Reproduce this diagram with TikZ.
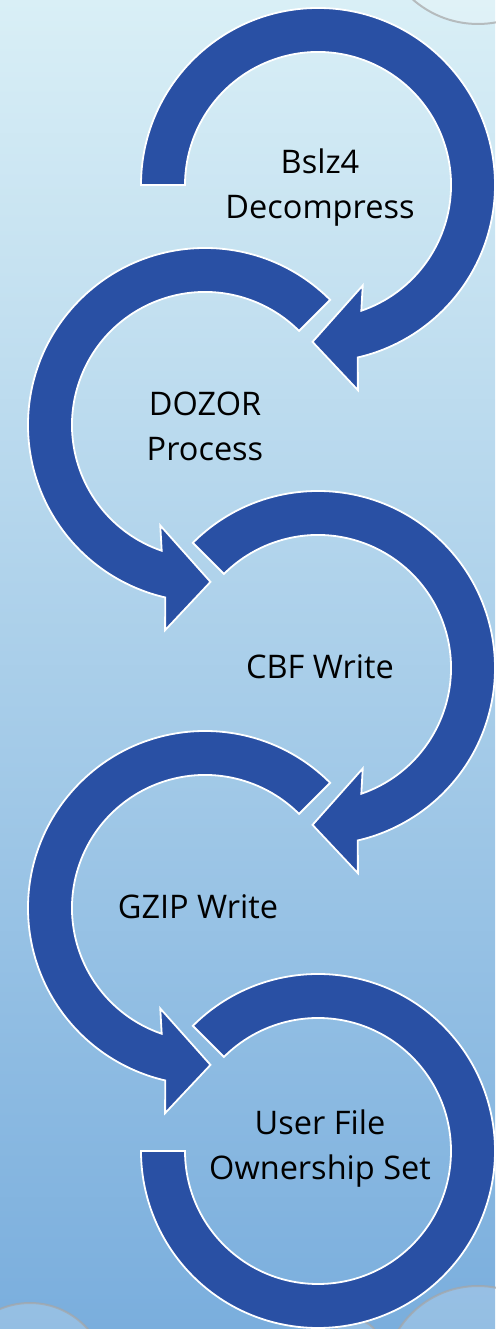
\documentclass[tikz,border=0pt]{standalone}
\usepackage{fontspec}
\setmainfont{Open Sans}
\definecolor{arrowblue}{RGB}{41,80,164}
\definecolor{bgtop}{RGB}{217,239,246}
\definecolor{bgmid}{RGB}{184,216,236}
\definecolor{bgbot}{RGB}{122,174,221}

\begin{document}
\begin{tikzpicture}[x=1pt,y=1pt,
  arrowbody/.style={fill=arrowblue,draw=white,line width=1.8pt},
  steptext/.style={font=\fontsize{32.5}{45}\selectfont,align=center,text=black},
  bubble/.style={draw=gray!70,line width=2pt,fill=white,fill opacity=0.2,draw opacity=0.7}]

  \useasboundingbox (0,0) rectangle (495,1329);
  \shade[top color=bgtop,middle color=bgmid,bottom color=bgbot] (0,0) rectangle (495,1329);

  \draw[bubble] (478,1404) circle[radius=99pt];
  \draw[bubble] (30,-51) circle[radius=77pt];
  \draw[bubble] (355,-16) circle[radius=25pt];
  \draw[bubble] (478,-51) circle[radius=94pt];

  \coordinate (c1) at (318,1144);
  \coordinate (c2) at (205,904);
  \coordinate (c3) at (318,661);
  \coordinate (c4) at (205,421);
  \coordinate (c5) at (318,178);

  \draw[arrowbody,shift={(c1)}] (180:177) arc[start angle=180,end angle=-77,radius=177pt]
    -- (-79:209) -- (-92:157) -- (-66:110) -- (-71:133)
    arc[start angle=-71,end angle=180,radius=133pt] -- cycle;
  \draw[arrowbody,shift={(c2)}] (45:177) arc[start angle=45,end angle=257,radius=177pt]
    -- (259:209) -- (272:157) -- (246:110) -- (251:133)
    arc[start angle=251,end angle=45,radius=133pt] -- cycle;
  \draw[arrowbody,shift={(c3)}] (135:177) arc[start angle=135,end angle=-77,radius=177pt]
    -- (-79:209) -- (-92:157) -- (-66:110) -- (-71:133)
    arc[start angle=-71,end angle=135,radius=133pt] -- cycle;
  \draw[arrowbody,shift={(c4)}] (45:177) arc[start angle=45,end angle=257,radius=177pt]
    -- (259:209) -- (272:157) -- (246:110) -- (251:133)
    arc[start angle=251,end angle=45,radius=133pt] -- cycle;
  \draw[arrowbody,shift={(c5)}] (135:177) arc[start angle=135,end angle=-180,radius=177pt]
    -- (-180:133) arc[start angle=-180,end angle=135,radius=133pt] -- cycle;

  \node[steptext] (t1) at (320,1141) {Bslz4\\Decompress};
  \node[steptext] (t2) at (205,903) {DOZOR\\Process};
  \node[steptext] (t3) at (320,662) {CBF Write};
  \node[steptext] (t4) at (198,422) {GZIP Write};
  \node[steptext] (t5) at (320,180) {User File\\Ownership Set};

\end{tikzpicture}
\end{document}
